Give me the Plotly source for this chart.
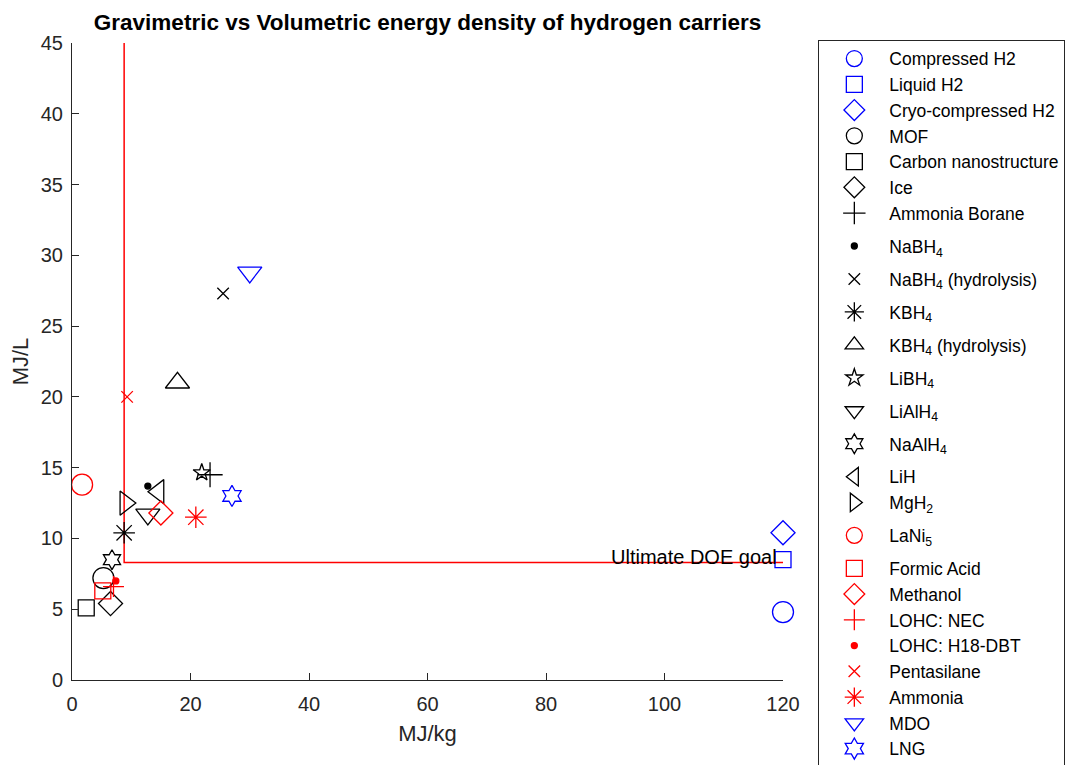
import plotly.graph_objects as go

# ---------------- data ----------------
carriers = [
    "Compressed H2", "Liquid H2", "Cryo-compressed H2", "MOF", "Carbon nanostructure",
    "Ice", "Ammonia Borane", "NaBH<sub>4</sub>", "NaBH<sub>4</sub> (hydrolysis)",
    "KBH<sub>4</sub>", "KBH<sub>4</sub> (hydrolysis)", "LiBH<sub>4</sub>", "LiAlH<sub>4</sub>",
    "NaAlH<sub>4</sub>", "LiH", "MgH<sub>2</sub>", "LaNi<sub>5</sub>", "Formic Acid",
    "Methanol", "LOHC: NEC", "LOHC: H18-DBT", "Pentasilane", "Ammonia", "MDO", "LNG",
]
mj_per_kg = [120, 120, 120, 5.3, 2.4, 6.5, 23.3, 12.8, 25.5, 8.8, 17.8, 21.9, 12.8,
             6.75, 14.6, 9.0, 1.7, 5.2, 15.0, 7.0, 7.4, 9.3, 20.9, 30.0, 27.0]
mj_per_l = [4.8, 8.5, 10.4, 7.2, 5.1, 5.4, 14.5, 13.7, 27.3, 10.4, 21.0, 14.65, 11.7,
            8.5, 13.3, 12.5, 13.8, 6.3, 11.8, 6.6, 7.0, 20.0, 11.5, 28.8, 13.0]

doe_x = [8.8, 8.8, 120]
doe_y = [45, 8.3, 8.3]
doe_label = "Ultimate DOE goal"

x_ticks = [0, 20, 40, 60, 80, 100, 120]
y_ticks = [0, 5, 10, 15, 20, 25, 30, 35, 40, 45]

# ---------------- styles ----------------
B, K, R = "#0000ff", "#000000", "#ff0000"
styles = [
    ("circle-open", B, 21), ("square-open", B, 16), ("diamond-open", B, 18.5),
    ("circle-open", K, 21), ("square-open", K, 16), ("diamond-open", K, 18.5),
    ("cross-thin-open", K, 18), ("circle", K, 6), ("x-thin-open", K, 11.5),
    ("asterisk-open", K, 18), ("triangle-up-open", K, 21), ("star-open", K, 13),
    ("triangle-down-open", K, 21), ("hexagram-open", K, 15), ("triangle-left-open", K, 21),
    ("triangle-right-open", K, 21), ("circle-open", R, 21), ("square-open", R, 16),
    ("diamond-open", R, 18.5), ("cross-thin-open", R, 15), ("circle", R, 6),
    ("x-thin-open", R, 11.5), ("asterisk-open", R, 18), ("triangle-down-open", B, 21),
    ("hexagram-open", B, 16),
]
# legend grouping (to mimic taller subscript entries)
groups = ["a"] * 7 + ["g7", "g8", "g9", "g10", "g11", "g12", "g13", "g14", "g14", "g16"] + ["z"] * 8

FONT = "Liberation Sans, Arial, Helvetica, sans-serif"
AX = "#262626"

# page body has an 8px margin: the figure is sized to fit the window
W, H = 1065, 757

fig = go.Figure()
fig.add_trace(go.Scatter(x=doe_x, y=doe_y, mode="lines", line=dict(color=R, width=1.5),
                         showlegend=False, hoverinfo="skip", cliponaxis=False))

for name, gx, vy, (sym, col, sz), grp in zip(carriers, mj_per_kg, mj_per_l, styles, groups):
    fig.add_trace(go.Scatter(
        x=[gx], y=[vy], mode="markers", name=name, legendgroup=grp,
        marker=dict(symbol=sym, color=col, size=sz, line=dict(color=col, width=1.3)),
        cliponaxis=False,
    ))

fig.add_annotation(x=119.4, y=8.7, text=doe_label, showarrow=False, xanchor="right",
                   yanchor="middle", font=dict(family=FONT, size=20, color="#000000"))

fig.update_layout(
    width=W, height=H,
    paper_bgcolor="white", plot_bgcolor="white",
    margin=dict(l=63.7, r=290.3, t=35.3, b=85, autoexpand=False),
    font=dict(family=FONT, color=AX),
    title=dict(text="<b>Gravimetric vs Volumetric energy density of hydrogen carriers</b>",
               x=0.5, xref="paper", y=1 - 14 / H, yref="container", yanchor="middle",
               xanchor="center", font=dict(family=FONT, size=22.5, color="#000000")),
    legend=dict(x=1.0497, y=1.0052, xanchor="left", yanchor="top",
                bgcolor="white", bordercolor=AX, borderwidth=1,
                font=dict(family=FONT, size=17.5, color="#000000"),
                itemwidth=60, traceorder="grouped", tracegroupgap=7.2, maxheight=750),
    showlegend=True,
)
fig.update_xaxes(range=[0, 120], tickvals=x_ticks, ticks="inside", ticklen=7,
                 tickcolor=AX, showline=True, linecolor=AX, linewidth=1,
                 showgrid=False, zeroline=False, mirror=False,
                 tickfont=dict(family=FONT, size=20, color=AX), ticklabelstandoff=6,
                 title=dict(text="MJ/kg", font=dict(family=FONT, size=22, color=AX), standoff=11))
fig.update_yaxes(range=[0, 45], tickvals=y_ticks, ticks="inside", ticklen=7,
                 tickcolor=AX, showline=True, linecolor=AX, linewidth=1,
                 showgrid=False, zeroline=False, mirror=False,
                 tickfont=dict(family=FONT, size=20, color=AX), ticklabelstandoff=4,
                 title=dict(text="MJ/L", font=dict(family=FONT, size=22, color=AX), standoff=7))

fig.write_html("out.html")
